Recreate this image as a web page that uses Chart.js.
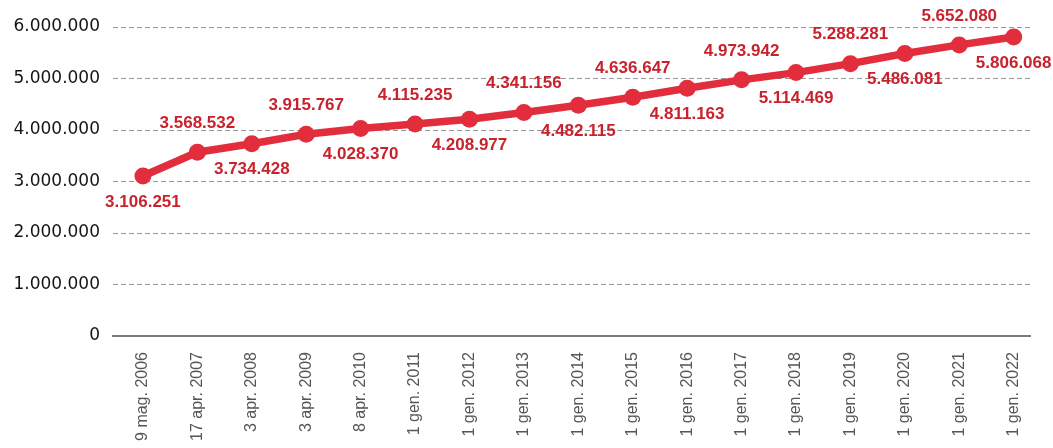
<!DOCTYPE html>
<html>
<head>
<meta charset="utf-8">
<script src="https://cdn.jsdelivr.net/npm/chart.js"></script>
<style>
  html, body { margin: 0; padding: 0; background: #fff; overflow: hidden; }
  #wrap { width: 1053px; height: 448px; }
</style>
</head>
<body>
<div id="wrap"><canvas id="aireChart" width="1053" height="448"></canvas></div>
<script>
// dates of the AIRE counts and registered residents
const dateLabels = [
  '9 mag. 2006', '17 apr. 2007', '3 apr. 2008', '3 apr. 2009', '8 apr. 2010',
  '1 gen. 2011', '1 gen. 2012', '1 gen. 2013', '1 gen. 2014', '1 gen. 2015',
  '1 gen. 2016', '1 gen. 2017', '1 gen. 2018', '1 gen. 2019', '1 gen. 2020',
  '1 gen. 2021', '1 gen. 2022'
];
const residents = [
  3106251, 3568532, 3734428, 3915767, 4028370,
  4115235, 4208977, 4341156, 4482115, 4636647,
  4811163, 4973942, 5114469, 5288281, 5486081,
  5652080, 5806068
];
const yTicks = [0, 1000000, 2000000, 3000000, 4000000, 5000000, 6000000];

const RED = '#e22d3c';
const LABEL_RED = '#c9222d';

function fmt(n) {
  return String(n).replace(/\B(?=(\d{3})+(?!\d))/g, '.');
}

// value labels, alternating below / above the points
const valueLabels = {
  id: 'valueLabels',
  afterDatasetsDraw(chart) {
    const ctx = chart.ctx;
    const meta = chart.getDatasetMeta(0);
    ctx.save();
    ctx.font = 'bold 17px "Liberation Sans", Arial, sans-serif';
    ctx.fillStyle = LABEL_RED;
    ctx.textAlign = 'center';
    ctx.textBaseline = 'middle';
    meta.data.forEach((pt, i) => {
      const dy = i % 2 === 0 ? 26 : -29;
      ctx.fillText(fmt(residents[i]), pt.x, pt.y + dy);
    });
    ctx.restore();
  }
};

new Chart(document.getElementById('aireChart'), {
  type: 'line',
  data: {
    datasets: [{
      data: residents.map((v, i) => ({ x: i, y: v })),
      borderColor: RED,
      backgroundColor: RED,
      borderWidth: 7.5,
      pointRadius: 8.5,
      pointHoverRadius: 8.5,
      pointBackgroundColor: RED,
      pointBorderWidth: 0,
      tension: 0
    }]
  },
  options: {
    responsive: false,
    animation: false,
    layout: { padding: { top: 27, right: 23, left: 0, bottom: 0 } },
    plugins: { legend: { display: false }, tooltip: { enabled: false } },
    scales: {
      x: {
        type: 'linear',
        min: -0.55,
        max: 16.3,
        afterFit: s => { s.height = 112; },
        grid: { display: false },
        border: { display: true, color: '#7a7a7a', width: 2 },
        ticks: {
          stepSize: 1,
          includeBounds: false,
          autoSkip: false,
          minRotation: 90,
          maxRotation: 90,
          padding: 8,
          color: '#555',
          font: { family: '"Liberation Sans", Arial, sans-serif', size: 16 },
          callback: v => dateLabels[v] ?? ''
        }
      },
      y: {
        min: 0,
        max: 6000000,
        afterFit: s => { s.width = 113; },
        afterBuildTicks: s => { s.ticks = yTicks.map(v => ({ value: v })); },
        grid: {
          drawTicks: false,
          color: c => c.tick && c.tick.value === 0 ? 'rgba(0,0,0,0)' : '#999',
          lineWidth: 1
        },
        border: { display: false, dash: [5, 3] },
        ticks: {
          padding: 13,
          color: '#151515',
          font: { family: '"DejaVu Sans", sans-serif', size: 17 },
          callback: v => fmt(v)
        }
      }
    }
  },
  plugins: [valueLabels]
});
</script>
</body>
</html>
